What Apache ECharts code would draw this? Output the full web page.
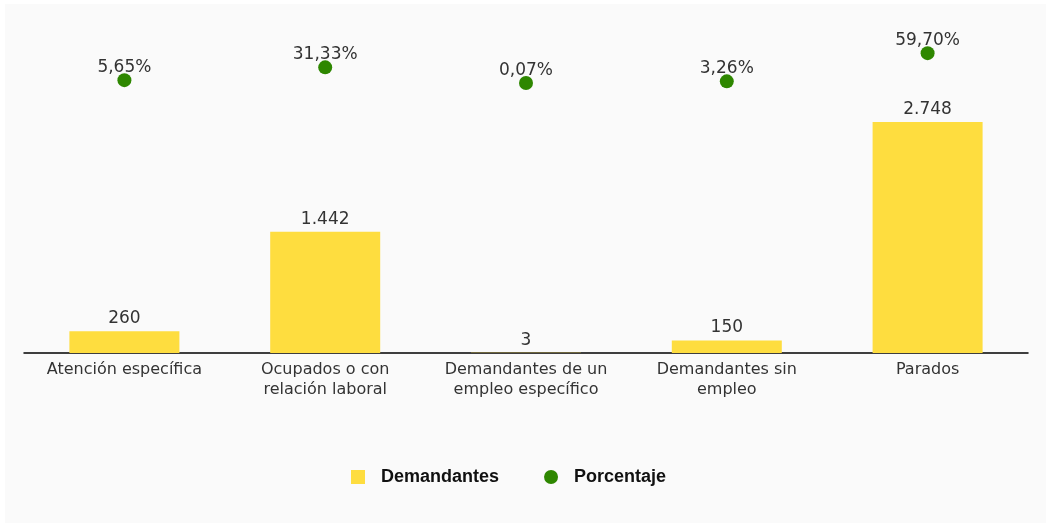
<!DOCTYPE html>
<html>
<head>
<meta charset="utf-8">
<script src="https://cdn.jsdelivr.net/npm/echarts@6/dist/echarts.min.js"></script>
<style>
html,body{margin:0;padding:0;background:#ffffff;}
#bg{position:absolute;left:5px;top:4px;width:1041px;height:519px;background:#fafafa;}
#chart{position:absolute;left:0;top:0;width:1051px;height:527px;}
</style>
</head>
<body>
<div id="bg"></div>
<div id="chart"></div>
<script>
const categories = ['Atención específica', 'Ocupados o con\nrelación laboral', 'Demandantes de un\nempleo específico', 'Demandantes sin\nempleo', 'Parados'];
const demandantes = [260, 1442, 3, 150, 2748];
const porcentaje = [5.65, 31.33, 0.07, 3.26, 59.70];
const seriesNames = ['Demandantes', 'Porcentaje'];

function fmtThousands(v) {
  return String(v).replace(/\B(?=(\d{3})+(?!\d))/g, '.');
}
function fmtPct(v) {
  return v.toFixed(2).replace('.', ',') + '%';
}

const chart = echarts.init(document.getElementById('chart'), null, {renderer: 'canvas'});
chart.setOption({
  animation: false,
  backgroundColor: 'transparent',
  textStyle: {fontFamily: 'DejaVu Sans'},
  grid: {left: 24, right: 23, top: 40, bottom: 174, containLabel: false},
  legend: {
    left: 346,
    top: 463,
    itemWidth: 14,
    itemHeight: 14,
    itemGap: 45,
    textStyle: {fontFamily: 'Liberation Sans', fontWeight: 'bold', fontSize: 18, color: '#111', padding: [0, 0, 0, 11]},
    data: [
      {name: seriesNames[0], icon: 'rect'},
      {name: seriesNames[1], icon: 'circle'}
    ]
  },
  xAxis: {
    type: 'category',
    data: categories,
    boundaryGap: true,
    axisLine: {show: true, lineStyle: {color: '#000', width: 1.5}},
    axisTick: {show: false},
    axisLabel: {fontFamily: 'DejaVu Sans', fontSize: 16, color: '#333', lineHeight: 20, margin: 7, interval: 0}
  },
  yAxis: [
    {type: 'value', min: 0, max: 3723, show: false, splitLine: {show: false}},
    {type: 'value', min: -540, max: 86, show: false, splitLine: {show: false}}
  ],
  series: [
    {
      name: seriesNames[0],
      type: 'bar',
      data: demandantes,
      barWidth: 110,
      itemStyle: {color: '#fedd3f'},
      label: {show: true, position: 'top', distance: 4, fontFamily: 'DejaVu Sans', fontSize: 17, color: '#333', formatter: p => fmtThousands(p.value)}
    },
    {
      name: seriesNames[1],
      type: 'scatter',
      yAxisIndex: 1,
      data: porcentaje,
      symbol: 'circle',
      symbolSize: 14,
      itemStyle: {color: '#2e8700', opacity: 1},
      label: {show: true, position: 'top', distance: -3, fontFamily: 'DejaVu Sans', fontSize: 17, color: '#333', formatter: p => fmtPct(p.value)}
    }
  ]
});
</script>
</body>
</html>
